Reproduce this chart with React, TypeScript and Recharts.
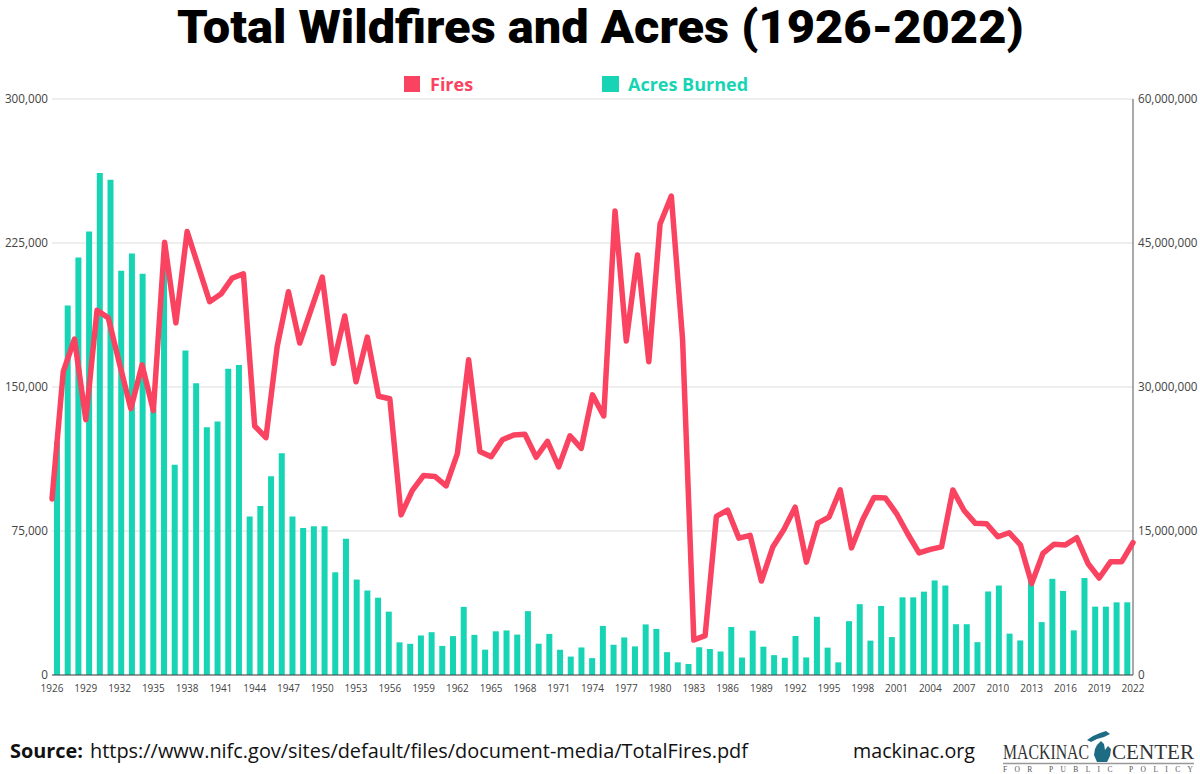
import React, { useLayoutEffect, useRef, useState } from 'react';
import { ComposedChart, Bar, Line, XAxis, YAxis, CartesianGrid } from 'recharts';

// ---- data ----
const years: number[] = Array.from({ length: 97 }, (_, i) => 1926 + i);

const yearTicks = [
  1926, 1929, 1932, 1935, 1938, 1941, 1944, 1947, 1950, 1953, 1956, 1959, 1962,
  1965, 1968, 1971, 1974, 1977, 1980, 1983, 1986, 1989, 1992, 1995, 1998, 2001,
  2004, 2007, 2010, 2013, 2016, 2019, 2022,
];

const fires = [
  91700, 158000, 175000, 133000, 190000, 186000, 162000, 138700, 161500, 137700, // 1926-1935
  225400, 183400, 231000, 212700, 194400, 198400, 206700, 209000, 129700, 123600, // 1936-1945
  171100, 199600, 172900, 190200, 207200, 162300, 187000, 152700, 176000, 145200, // 1946-1955
  143900, 83400, 96200, 103900, 103400, 98500, 115300, 164200, 116400, 113700, // 1956-1965
  122500, 125000, 125400, 113400, 121700, 108400, 124600, 118000, 145900, 134900, // 1966-1975
  241700, 174000, 218800, 163200, 234900, 249400, 174800, 18200, 20500, 82600, // 1976-1985
  85900, 71300, 72750, 48950, 66500, 75750, 87400, 58800, 79100, 82200, // 1986-1995
  96400, 66200, 81000, 92500, 92250, 84100, 73450, 63600, 65450, 66750, // 1996-2005
  96400, 85700, 79000, 78800, 72000, 74100, 67800, 47600, 63300, 68150, // 2006-2015
  67750, 71500, 58100, 50500, 58950, 59000, 69000, // 2016-2022
];

// The acres bars in the picture are 101 slots on their own band axis
const acresBurned = [
  24300000, 38500000, 43500000, 46200000, 52300000, 51600000, 42100000, 43900000, 41800000, 27700000,
  43200000, 21900000, 33800000, 30400000, 25800000, 26400000, 31900000, 32300000, 16500000, 17600000,
  20700000, 23100000, 16500000, 15300000, 15500000, 15500000, 10700000, 14200000, 9940000, 8800000,
  8050000, 6600000, 3400000, 3250000, 4120000, 4460000, 3030000, 4050000, 7100000, 4180000,
  2640000, 4550000, 4640000, 4210000, 6650000, 3260000, 4280000, 2630000, 1920000, 2870000,
  1760000, 5110000, 3150000, 3910000, 2980000, 5270000, 4800000, 2380000, 1320000, 1150000,
  2890000, 2710000, 2450000, 5000000, 1820000, 4620000, 2950000, 2070000, 1800000, 4060000,
  1830000, 6060000, 2850000, 1320000, 5610000, 7380000, 3580000, 7190000, 3950000, 8090000,
  8090000, 8680000, 9850000, 9320000, 5290000, 5290000, 3420000, 8700000, 9320000, 4310000,
  3600000, 10100000, 5510000, 10020000, 8760000, 4650000, 10100000, 7120000, 7120000, 7570000,
  7570000,
];

const fireTicks = [0, 75000, 150000, 225000, 300000];
const acreTicks = [0, 15000000, 30000000, 45000000, 60000000];

// ---- styles ----
const RED = '#fa4361';
const TEAL = '#17d4b4';
const AXIS_TEXT = '#444';
const FONT = '"Open Sans", "DejaVu Sans", sans-serif';
const TITLE_FONT = 'Roboto, "Open Sans", sans-serif';
const SERIF = '"Liberation Serif", "DejaVu Serif", serif';

const lineRows = years.map((y, i) => ({ year: y, fires: fires[i] }));
const barRows = acresBurned.map((v, i) => ({ slot: i, acres: v }));

const fmt = (v: number) => String(v).replace(/\B(?=(\d{3})+(?!\d))/g, ',');

const CHART_W = 1200;
const CHART_H = 700;
const TITLE_W = 847;

function Title() {
  const ref = useRef<HTMLSpanElement>(null);
  const [sx, setSx] = useState(1);
  useLayoutEffect(() => {
    if (ref.current) {
      const w = ref.current.offsetWidth;
      if (w > 0) setSx(TITLE_W / w);
    }
  }, []);
  return (
    <div
      style={{
        position: 'absolute',
        left: 0,
        top: 0,
        width: 1200,
        textAlign: 'center',
        lineHeight: '55px',
        height: 55,
        fontFamily: TITLE_FONT,
        fontWeight: 900,
        fontSize: 46,
        color: '#000',
        whiteSpace: 'nowrap',
      }}
    >
      <span
        ref={ref}
        style={{
          display: 'inline-block',
          transform: `scaleX(${sx})`,
          transformOrigin: 'center',
        }}
      >
        Total Wildfires and Acres (1926-2022)
      </span>
    </div>
  );
}

export default function App() {
  return (
    <div
      style={{
        position: 'absolute',
        left: 0,
        top: 0,
        width: 1200,
        height: 774,
        background: '#fff',
        overflow: 'hidden',
        fontFamily: FONT,
      }}
    >
      {/* bars + grid + right axis */}
      <div style={{ position: 'absolute', left: 0, top: 0 }}>
        <ComposedChart
          width={CHART_W}
          height={CHART_H}
          data={barRows}
          margin={{ top: 99, right: 0, bottom: 25, left: 52 }}
        >
          <CartesianGrid vertical={false} stroke="#dedede" strokeWidth={1} />
          <XAxis dataKey="slot" hide />
          <YAxis
            orientation="right"
            width={67}
            domain={[0, 60000000]}
            ticks={acreTicks}
            interval={0}
            tickFormatter={fmt}
            axisLine={{ stroke: '#555', strokeWidth: 1 }}
            tickLine={false}
            tickSize={3}
            tickMargin={2}
            tick={{ fontSize: 11.7, fill: AXIS_TEXT, fontFamily: FONT }}
          />
          <Bar dataKey="acres" fill={TEAL} barSize={6} isAnimationActive={false} />
        </ComposedChart>
      </div>

      {/* fires line + x axis + left axis */}
      <div style={{ position: 'absolute', left: 0, top: 0 }}>
        <ComposedChart
          width={CHART_W}
          height={CHART_H}
          data={lineRows}
          margin={{ top: 99, right: 67, bottom: 0, left: 0 }}
        >
          <XAxis
            dataKey="year"
            ticks={yearTicks}
            interval={0}
            height={25}
            axisLine={{ stroke: '#444', strokeWidth: 1.2 }}
            tickLine={false}
            tickSize={4}
            tickMargin={6}
            tick={{ fontSize: 10, fill: AXIS_TEXT, fontFamily: FONT }}
          />
          <YAxis
            width={52}
            domain={[0, 300000]}
            ticks={fireTicks}
            interval={0}
            tickFormatter={fmt}
            axisLine={false}
            tickLine={false}
            tickSize={2}
            tickMargin={2}
            tick={{ fontSize: 11.7, fill: AXIS_TEXT, fontFamily: FONT }}
          />
          <Line
            type="linear"
            dataKey="fires"
            stroke={RED}
            strokeWidth={5.5}
            strokeLinejoin="round"
            strokeLinecap="round"
            dot={false}
            activeDot={false}
            isAnimationActive={false}
          />
        </ComposedChart>
      </div>

      <Title />

      {/* legend, footer */}
      <svg
        width={1200}
        height={774}
        style={{ position: 'absolute', left: 0, top: 0, pointerEvents: 'none' }}
      >
        <rect x={404} y={76} width={16} height={16} fill={RED} />
        <text x={430} y={91} fontFamily={FONT} fontWeight={700} fontSize={18} fill={RED}>
          Fires
        </text>
        <rect x={602} y={76} width={17} height={16} fill={TEAL} />
        <text x={628} y={91} fontFamily={FONT} fontWeight={700} fontSize={18} fill={TEAL}>
          Acres Burned
        </text>

        <text
          x={10}
          y={758}
          fontFamily={FONT}
          fontWeight={700}
          fontSize={20}
          fill="#111"
          textLength={73}
          lengthAdjust="spacingAndGlyphs"
        >
          Source:
        </text>
        <text
          x={90}
          y={758}
          fontFamily={FONT}
          fontSize={20}
          fill="#111"
          textLength={658}
          lengthAdjust="spacingAndGlyphs"
        >
          https://www.nifc.gov/sites/default/files/document-media/TotalFires.pdf
        </text>
        <text
          x={853}
          y={758}
          fontFamily={FONT}
          fontSize={20}
          fill="#111"
          textLength={122}
          lengthAdjust="spacingAndGlyphs"
        >
          mackinac.org
        </text>

        {/* Mackinac Center logo */}
        <text
          x={1003}
          y={759}
          fontFamily={SERIF}
          fontSize={20}
          fill="#333"
          textLength={86}
          lengthAdjust="spacingAndGlyphs"
        >
          MACKINAC
        </text>
        <path
          d="M1087,740 L1093,736 L1100,733 L1106,731 L1110,734 L1104,737 L1097,739 L1091,742 Z M1097,745 L1101,741 L1104,744 L1105,750 L1108,746 L1111,749 L1110,756 L1107,762 L1097,762 L1094,755 L1095,749 Z"
          fill="#1e6c84"
        />
        <text
          x={1112}
          y={759}
          fontFamily={SERIF}
          fontSize={20}
          fill="#333"
          textLength={82}
          lengthAdjust="spacingAndGlyphs"
        >
          CENTER
        </text>
        <line x1={1003} y1={763.5} x2={1194} y2={763.5} stroke="#999" strokeWidth={1.5} />
        <text
          x={1003}
          y={772}
          fontFamily={SERIF}
          fontSize={7.5}
          fill="#555"
          textLength={190}
          lengthAdjust="spacing"
        >
          FOR PUBLIC POLICY
        </text>
      </svg>
    </div>
  );
}
